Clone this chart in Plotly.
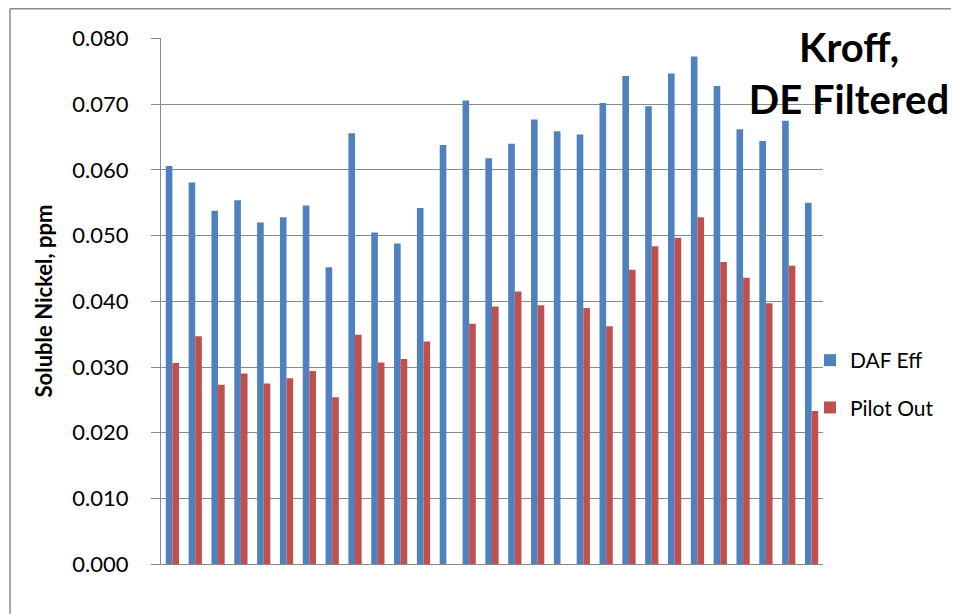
import plotly.graph_objects as go

categories = list(range(1, 30))
daf_eff = [0.0606, 0.0581, 0.0538, 0.0554, 0.0520, 0.0528, 0.0546, 0.0452, 0.0656, 0.0505,
           0.0488, 0.0542, 0.0638, 0.0706, 0.0618, 0.0640, 0.0677, 0.0659, 0.0654, 0.0702,
           0.0743, 0.0697, 0.0747, 0.0773, 0.0728, 0.0662, 0.0644, 0.0675, 0.0550]
pilot_out = [0.0306, 0.0347, 0.0273, 0.0290, 0.0275, 0.0283, 0.0294, 0.0254, 0.0349, 0.0307,
             0.0312, 0.0339, None, 0.0366, 0.0392, 0.0415, 0.0394, None, 0.0390, 0.0362,
             0.0448, 0.0484, 0.0497, 0.0528, 0.0460, 0.0436, 0.0397, 0.0454, 0.0233]
y_ticks = [0.0, 0.01, 0.02, 0.03, 0.04, 0.05, 0.06, 0.07, 0.08]
y_tick_labels = ["0.000", "0.010", "0.020", "0.030", "0.040", "0.050", "0.060", "0.070", "0.080"]

# page body adds an 8px offset; figure coordinates = screen - 8
OFF = 8
W, H = 951, 606
L, R, T, B = 161 - OFF, 136, 38 - OFF, 50
pw, ph = W - L - R, H - T - B

def px_x(sx):
    return (sx - OFF - L) / pw

def px_y(sy):
    return (H - B - (sy - OFF)) / ph

grid = "#8a8a8a"

fig = go.Figure()
fig.add_trace(go.Bar(x=categories, y=daf_eff, name="DAF Eff",
                     marker=dict(color="#4F81BD", line=dict(width=0)),
                     legendgroup="a"))
fig.add_trace(go.Bar(x=categories, y=pilot_out, name="Pilot Out",
                     marker=dict(color="#C0504D", line=dict(width=0)),
                     legendgroup="b"))

fig.update_layout(
    width=W, height=H,
    margin=dict(l=L, r=R, t=T, b=B),
    paper_bgcolor="white", plot_bgcolor="white",
    barmode="group", bargap=0.42, bargroupgap=0,
    font=dict(family="Lato", color="#000000"),
    title=dict(text="Kroff,<br>DE Filtered", xref="container", yref="container",
               x=(849 - OFF) / W, xanchor="center", y=1 - (61.5 - OFF) / H, yanchor="middle",
               font=dict(family="Lato", size=40, color="#000000", weight="bold")),
    legend=dict(x=px_x(810), xanchor="left", y=px_y(384), yanchor="middle",
                traceorder="grouped", tracegroupgap=17,
                font=dict(family="Lato", size=21, color="#000000"),
                bgcolor="rgba(0,0,0,0)", itemwidth=30),
    xaxis=dict(range=[0.5, 29.5], showticklabels=False, ticks="", showgrid=False,
               showline=True, linecolor=grid, linewidth=1, zeroline=False, fixedrange=True),
    yaxis=dict(range=[0, 0.0801], tickvals=y_ticks, ticktext=y_tick_labels,
               ticks="outside", ticklen=9, tickcolor=grid, tickwidth=1,
               showgrid=True, gridcolor=grid, gridwidth=1,
               showline=True, linecolor=grid, linewidth=1, zeroline=False,
               ticklabelstandoff=18,
               tickfont=dict(family="Lato", size=22, color="#000000"),
               title=dict(text="Soluble Nickel, ppm", standoff=13,
                          font=dict(family="Lato", size=22, color="#000000", weight="bold"))),
    shapes=[
        dict(type="line", xref="paper", yref="paper", x0=px_x(10), x1=px_x(10),
             y0=px_y(8.75), y1=px_y(640), line=dict(color="#8c8c8c", width=1.5)),
        dict(type="line", xref="paper", yref="paper", x0=px_x(10), x1=px_x(970),
             y0=px_y(8.75), y1=px_y(8.75), line=dict(color="#8c8c8c", width=1.5)),
    ],
)

fig.write_html("out.html")
